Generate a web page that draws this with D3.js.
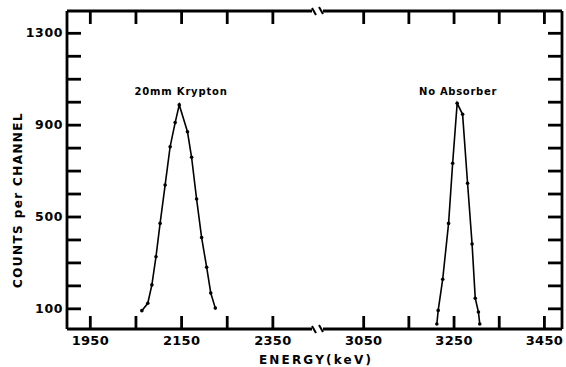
<!DOCTYPE html>
<html>
<head>
<meta charset="utf-8">
<script src="https://cdn.jsdelivr.net/npm/d3@7"></script>
<style>
  body { margin: 0; background: #fff; }
  text { font-family: "DejaVu Sans", sans-serif; font-weight: bold; fill: #000; }
</style>
</head>
<body>
<div class="chart-container"></div>
<script>
// data
var kryptonEnergy = [2064, 2077, 2086, 2095, 2104, 2115, 2126, 2137, 2146, 2164, 2173, 2184, 2195, 2206, 2215, 2225];
var kryptonCounts = [90, 122, 202, 325, 470, 637, 804, 909, 986, 869, 758, 576, 408, 279, 167, 101];
var noAbsEnergy = [3213, 3216, 3226, 3239, 3248, 3258, 3270, 3281, 3291, 3298, 3305, 3308];
var noAbsCounts = [32, 91, 227, 470, 732, 993, 945, 645, 380, 144, 84, 32];
var xTicksLow = [1950, 2050, 2150, 2250, 2350];
var xTicksHigh = [3050, 3150, 3250, 3350, 3450];
var xLabels = [1950, 2150, 2350, 3050, 3250, 3450];
var yTicks = [100, 200, 300, 400, 500, 600, 700, 800, 900, 1000, 1100, 1200, 1300];
var yLabels = [100, 500, 900, 1300];

draw();

function draw() {
    var drawWidth = 566, drawHeight = 367;
    var margin = { top: 11, right: 4, bottom: 38, left: 67 };
    var width = drawWidth - margin.left - margin.right;
    var height = drawHeight - margin.top - margin.bottom;
    var breakX = 251; // where the axis is broken

    var svg = d3.select('.chart-container').append('svg')
        .attr('width', drawWidth)
        .attr('height', drawHeight);
    var g = svg.append('g')
        .attr('transform', 'translate(' + margin.left + ',' + margin.top + ')');

    var xLow = d3.scaleLinear().domain([1900, 2450]).range([0, breakX]);
    var xHigh = d3.scaleLinear().domain([2950, 3490]).range([breakX, width]);
    var y = d3.scaleLinear().domain([10, 1395]).range([height, 0]);

    function fmtY(d) { return yLabels.indexOf(d) >= 0 ? d : ''; }
    function fmtX(d) { return xLabels.indexOf(d) >= 0 ? d : ''; }

    // inward ticks on all four sides
    g.append('g').attr('class', 'axis yl')
        .call(d3.axisLeft(y).tickValues(yTicks).tickSize(-14).tickPadding(4).tickFormat(fmtY));
    g.append('g').attr('class', 'axis')
        .attr('transform', 'translate(' + width + ',0)')
        .call(d3.axisRight(y).tickValues(yTicks).tickSize(-14).tickFormat(''));
    g.append('g').attr('class', 'axis xl')
        .attr('transform', 'translate(0,' + height + ')')
        .call(d3.axisBottom(xLow).tickValues(xTicksLow).tickSize(-13).tickPadding(7).tickFormat(fmtX));
    g.append('g').attr('class', 'axis xl')
        .attr('transform', 'translate(0,' + height + ')')
        .call(d3.axisBottom(xHigh).tickValues(xTicksHigh).tickSize(-13).tickPadding(7).tickFormat(fmtX));
    g.append('g').attr('class', 'axis')
        .call(d3.axisTop(xLow).tickValues(xTicksLow).tickSize(-13).tickFormat(''));
    g.append('g').attr('class', 'axis')
        .call(d3.axisTop(xHigh).tickValues(xTicksHigh).tickSize(-13).tickFormat(''));

    g.selectAll('.axis .domain').remove();
    g.selectAll('.axis line').attr('stroke', '#000').attr('stroke-width', 2.8);
    g.selectAll('.axis text').attr('font-family', '"DejaVu Sans", sans-serif')
        .attr('font-weight', 'bold');
    g.selectAll('.yl text').attr('font-size', 12.5).attr('letter-spacing', 0.6);
    g.selectAll('.xl text').attr('font-size', 13).attr('letter-spacing', 0.3);

    // frame with break on top and bottom
    var frame = [
        [[0, 0], [0, height]],
        [[width, 0], [width, height]],
        [[0, 0], [breakX - 6, 0]], [[breakX + 5, 0], [width, 0]],
        [[0, height], [breakX - 6, height]], [[breakX + 5, height], [width, height]]
    ];
    g.selectAll('.frame').data(frame).enter().append('path')
        .attr('d', function (d) { return d3.line()(d); })
        .attr('stroke', '#000').attr('stroke-width', 2.8).attr('fill', 'none');

    var slashes = [];
    [0, height].forEach(function (yy) {
        slashes.push([[breakX - 6, yy - 3], [breakX - 2, yy + 4]]);
        slashes.push([[breakX + 1, yy - 4], [breakX + 5, yy + 3]]);
    });
    g.selectAll('.slash').data(slashes).enter().append('path')
        .attr('d', function (d) { return d3.line()(d); })
        .attr('stroke', '#000').attr('stroke-width', 2).attr('fill', 'none');

    // peaks
    var series = [
        { x: xLow, e: kryptonEnergy, c: kryptonCounts },
        { x: xHigh, e: noAbsEnergy, c: noAbsCounts }
    ];
    series.forEach(function (s) {
        var pts = s.e.map(function (e, i) { return [s.x(e), y(s.c[i])]; });
        g.append('path')
            .attr('d', d3.line()(pts))
            .attr('fill', 'none').attr('stroke', '#000').attr('stroke-width', 1.6);
        g.selectAll(null).data(pts).enter().append('circle')
            .attr('cx', function (d) { return d[0]; })
            .attr('cy', function (d) { return d[1]; })
            .attr('r', 1.8).attr('fill', '#000');
    });

    // annotations
    g.append('text').attr('x', xLow(2150)).attr('y', 84)
        .attr('text-anchor', 'middle').attr('font-size', 10).attr('letter-spacing', 0.8)
        .text('20mm Krypton');
    g.append('text').attr('x', xHigh(3260)).attr('y', 84)
        .attr('text-anchor', 'middle').attr('font-size', 10).attr('letter-spacing', 0.7)
        .text('No Absorber');

    // axis titles
    svg.append('text').attr('x', 316).attr('y', 364)
        .attr('text-anchor', 'middle').attr('font-size', 12).attr('letter-spacing', 2.2)
        .text('ENERGY(keV)');
    svg.append('text')
        .attr('transform', 'translate(22,200) rotate(-90)')
        .attr('text-anchor', 'middle').attr('font-size', 12).attr('letter-spacing', 1.4)
        .text('COUNTS per CHANNEL');
}
</script>
</body>
</html>
